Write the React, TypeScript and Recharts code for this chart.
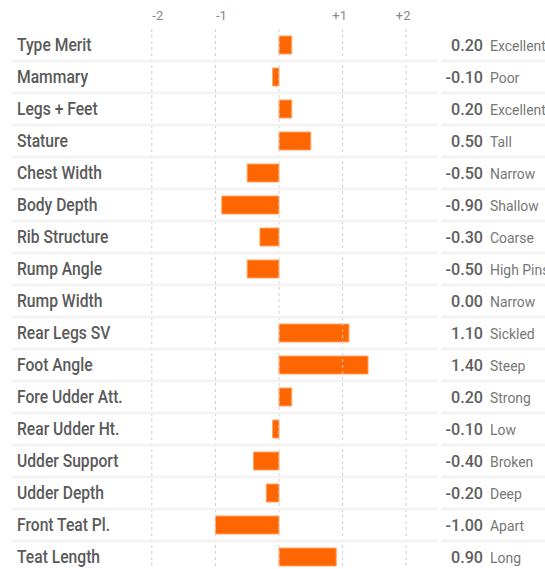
import React from "react";
import {
	BarChart,
	Bar,
	XAxis,
	YAxis,
	ReferenceLine,
} from "recharts";

const traits = [
	"Type Merit",
	"Mammary",
	"Legs + Feet",
	"Stature",
	"Chest Width",
	"Body Depth",
	"Rib Structure",
	"Rump Angle",
	"Rump Width",
	"Rear Legs SV",
	"Foot Angle",
	"Fore Udder Att.",
	"Rear Udder Ht.",
	"Udder Support",
	"Udder Depth",
	"Front Teat Pl.",
	"Teat Length",
];

const scores = [
	0.2, -0.1, 0.2, 0.5, -0.5, -0.9, -0.3, -0.5, 0.0, 1.1, 1.4, 0.2, -0.1, -0.4,
	-0.2, -1.0, 0.9,
];

const descriptors = [
	"Excellent",
	"Poor",
	"Excellent",
	"Tall",
	"Narrow",
	"Shallow",
	"Coarse",
	"High Pins",
	"Narrow",
	"Sickled",
	"Steep",
	"Strong",
	"Low",
	"Broken",
	"Deep",
	"Apart",
	"Long",
];

const xTicks = [-2, -1, 0, 1, 2];

const data = traits.map((trait, i) => ({
	trait,
	score: scores[i],
	desc: descriptors[i],
}));

const FONT = "Roboto, 'Liberation Sans', sans-serif";
const W = 545;
const H = 573;
const TOP = 29;
const ROW_H = (H - TOP) / traits.length;

// left label + right value/descriptor + row separator, all drawn per category tick
const RowTick = (props: any) => {
	const { y, payload, index } = props;
	const row = data[index] ?? data.find((d) => d.trait === payload.value);
	const sep = y + ROW_H / 2;
	return (
		<g>
			<line x1={12} x2={438} y1={sep} y2={sep} stroke="#f3f3f3" strokeWidth={3} />
			<line x1={441} x2={W} y1={sep} y2={sep} stroke="#f3f3f3" strokeWidth={3} />
			<text
				transform={`translate(17 ${y}) scale(0.87 1)`}
				dy="0.36em"
				textAnchor="start"
				fontSize={18}
				fill="#5a5a5a"
				fontFamily={FONT}
				fontWeight={500}
			>
				{payload.value}
			</text>
			<text
				transform={`translate(483 ${y}) scale(0.95 1)`}
				dy="0.36em"
				textAnchor="end"
				fontSize={17}
				fill="#5e5e5e"
				fontFamily={FONT}
				fontWeight={500}
			>
				{row.score.toFixed(2)}
			</text>
			<text
				transform={`translate(490 ${y + 1}) scale(0.93 1)`}
				dy="0.36em"
				textAnchor="start"
				fontSize={15}
				fill="#777"
				fontFamily={FONT}
			>
				{row.desc}
			</text>
		</g>
	);
};

const ScaleTick = (props: any) => {
	const { x, y, payload } = props;
	const v = payload.value as number;
	if (v === 0) return null;
	return (
		<text
			x={x + (v < 0 ? 6 : -3)}
			y={y}
			textAnchor="middle"
			fontSize={13}
			fill="#888"
			fontFamily={FONT}
		>
			{v > 0 ? `+${v}` : `${v}`}
		</text>
	);
};

export default function App() {
	return (
		<div style={{ position: "absolute", left: 0, top: 0, width: W, height: 569, overflow: "hidden" }}>
			<BarChart
				width={W}
				height={H}
				data={data}
				layout="vertical"
				margin={{ top: 5, right: W - 438, bottom: 0, left: 0 }}
				barCategoryGap={0}
			>
				<XAxis
					type="number"
					orientation="top"
					domain={[-2.5, 2.5]}
					ticks={xTicks}
					height={24}
					axisLine={false}
					tickLine={false}
					tickMargin={3}
					tick={<ScaleTick />}
				/>
				<YAxis
					type="category"
					dataKey="trait"
					width={120}
					axisLine={false}
					tickLine={false}
					interval={0}
					tick={<RowTick />}
				/>
				{xTicks.map((t) => (
					<ReferenceLine key={t} x={t} stroke="#cfcfcf" strokeDasharray="3 3" />
				))}
				<Bar
					dataKey="score"
					fill="#ff6600"
					stroke="#ffa466"
					strokeWidth={1}
					barSize={18}
					isAnimationActive={false}
				/>
			</BarChart>
		</div>
	);
}
